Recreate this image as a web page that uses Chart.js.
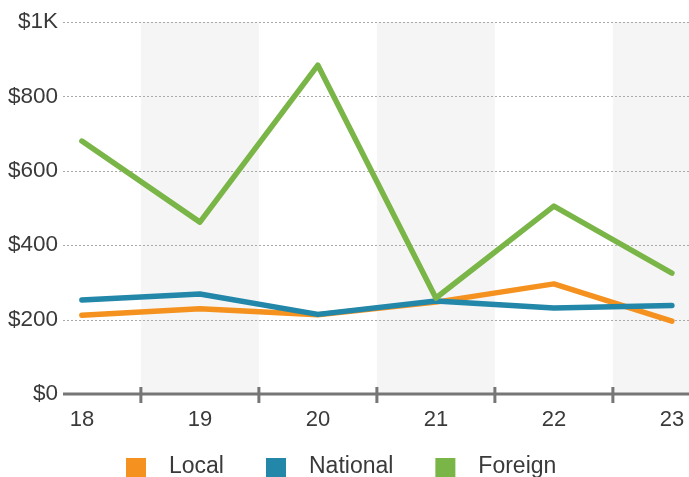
<!DOCTYPE html>
<html>
<head>
<meta charset="utf-8">
<script src="https://cdn.jsdelivr.net/npm/chart.js@4.4.0/dist/chart.umd.min.js"></script>
<style>
  html, body { margin: 0; padding: 0; background: #fff; }
  #wrap { width: 689px; height: 477px; overflow: hidden; }
</style>
</head>
<body>
<div id="wrap"><canvas id="chart" width="689" height="477"></canvas></div>
<script>
// data
const categories = [18, 19, 20, 21, 22, 23]
const localValues = [212, 229, 213, 247, 296, 196]
const nationalValues = [253, 269, 214, 250, 231, 238]
const foreignValues = [680, 462, 884, 258, 505, 325]
const yTicks = [0, 200, 400, 600, 800, 1000]
const seriesNames = ["Local", "National", "Foreign"]
const seriesColors = ["#f5911e", "#2287a8", "#7ab547"]

const FONT = "'Liberation Sans', Arial, sans-serif"
const TEXT = "#3a3a3a"

function points(values) {
  return categories.map((c, i) => ({ x: c, y: values[i] }))
}

function yLabel(v) {
  return v >= 1000 ? "$" + (v / 1000) + "K" : "$" + v
}

// bands, dotted grid, axis line and tick marks between categories
const backdrop = {
  id: "backdrop",
  beforeDatasetsDraw(chart) {
    const { ctx, chartArea, scales } = chart
    const x = scales.x, y = scales.y
    ctx.save()

    ctx.fillStyle = "#f5f5f5"
    for (let i = 0; i < categories.length; i += 2) {
      const a = x.getPixelForValue(categories[i] + 0.5)
      const b = Math.min(x.getPixelForValue(categories[i] + 1.5), chartArea.right)
      ctx.fillRect(a, chartArea.top, b - a, chartArea.bottom - chartArea.top)
    }

    ctx.strokeStyle = "#aaaaaa"
    ctx.lineWidth = 1
    ctx.setLineDash([2, 2])
    yTicks.forEach(v => {
      if (v === 0) return
      const py = Math.round(y.getPixelForValue(v)) + 0.5
      ctx.beginPath()
      ctx.moveTo(chartArea.left, py)
      ctx.lineTo(chartArea.right, py)
      ctx.stroke()
    })
    ctx.setLineDash([])

    const base = y.getPixelForValue(0)
    ctx.strokeStyle = "#767676"
    ctx.lineWidth = 3
    ctx.beginPath()
    ctx.moveTo(chartArea.left, base)
    ctx.lineTo(chartArea.right, base)
    ctx.stroke()

    for (let i = 0; i < categories.length - 1; i++) {
      const px = x.getPixelForValue(categories[i] + 0.5)
      ctx.beginPath()
      ctx.moveTo(px, base - 7)
      ctx.lineTo(px, base + 9)
      ctx.stroke()
    }
    ctx.restore()
  }
}

// legend at the bottom
const bottomLegend = {
  id: "bottomLegend",
  afterDraw(chart) {
    const ctx = chart.ctx
    ctx.save()
    ctx.font = "23px " + FONT
    ctx.textBaseline = "middle"
    let px = 126
    const py = 467
    chart.data.datasets.forEach(ds => {
      ctx.fillStyle = ds.borderColor
      ctx.fillRect(px, py - 9, 20, 20)
      px += 43
      ctx.fillStyle = TEXT
      ctx.fillText(ds.label, px, py)
      px += ctx.measureText(ds.label).width + 42
    })
    ctx.restore()
  }
}

const datasets = [localValues, nationalValues, foreignValues].map((vals, i) => ({
  label: seriesNames[i],
  data: points(vals),
  borderColor: seriesColors[i],
  backgroundColor: seriesColors[i],
  borderWidth: 5.5,
  borderCapStyle: "round",
  borderJoinStyle: "round",
  pointRadius: 0,
  tension: 0,
  fill: false,
  order: 3 - i
}))

new Chart(document.getElementById("chart"), {
  type: "line",
  data: { datasets },
  options: {
    responsive: false,
    animation: false,
    devicePixelRatio: 1,
    layout: { padding: { top: 22, right: 0, left: 0, bottom: 0 } },
    plugins: {
      legend: { display: false },
      tooltip: { enabled: false }
    },
    scales: {
      x: {
        type: "linear",
        min: 17.84,
        max: 23.145,
        afterBuildTicks: s => { s.ticks = categories.map(v => ({ value: v })) },
        afterFit: s => {
          s.height = 83
          s.paddingLeft = 0
          s.paddingRight = 0
        },
        grid: { display: false, drawTicks: false },
        border: { display: false },
        ticks: {
          padding: 13,
          color: TEXT,
          font: { size: 22, family: FONT },
          callback: v => String(v)
        }
      },
      y: {
        min: 0,
        max: 1000,
        afterBuildTicks: s => { s.ticks = yTicks.map(v => ({ value: v })) },
        afterFit: s => { s.width = 63 },
        grid: { display: false, drawTicks: false },
        border: { display: false },
        ticks: {
          padding: 5,
          color: TEXT,
          font: { size: 22.5, family: FONT },
          callback: v => yLabel(v)
        }
      }
    }
  },
  plugins: [backdrop, bottomLegend]
})
</script>
</body>
</html>
